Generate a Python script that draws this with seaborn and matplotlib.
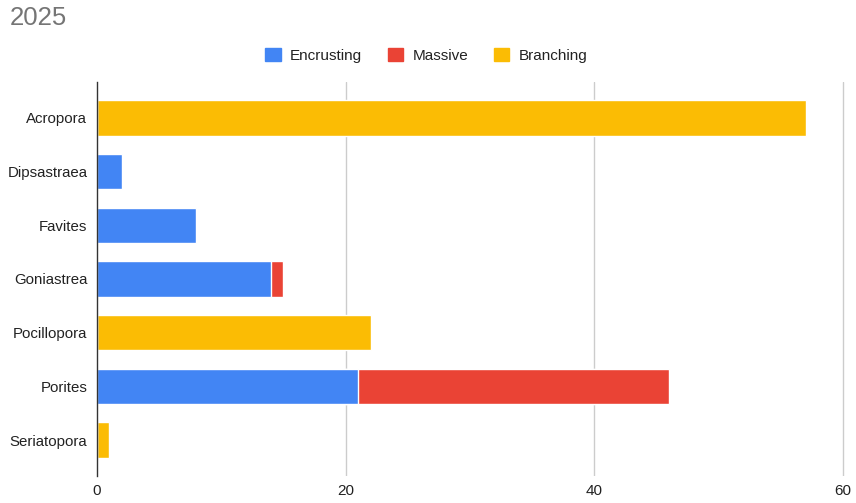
import matplotlib
matplotlib.use("Agg")
import matplotlib.pyplot as plt
import seaborn as sns
import numpy as np
import pandas as pd
from matplotlib.patches import Patch

genera = ["Acropora", "Dipsastraea", "Favites", "Goniastrea", "Pocillopora", "Porites", "Seriatopora"]
encrusting = [0, 2, 8, 14, 0, 21, 0]
massive = [0, 0, 0, 1, 0, 25, 0]
branching = [57, 0, 0, 0, 22, 0, 1]
series = ["Encrusting", "Massive", "Branching"]
colors = ["#4285F4", "#EA4335", "#FBBC04"]
xticks = [0, 20, 40, 60]

sns.set_theme(style="white")
plt.rcParams['font.family'] = ['Liberation Sans', 'DejaVu Sans']

fig = plt.figure(figsize=(8.56, 5.03), dpi=100)
ax = fig.add_axes([0.1133, 0.0537, 0.8759, 0.7833])

enc = np.array(encrusting, dtype=float)
mas = np.array(massive, dtype=float)
bra = np.array(branching, dtype=float)
layers = [enc + mas + bra, enc + mas, enc]
layer_colors = [colors[2], colors[1], colors[0]]
for vals, c in zip(layers, layer_colors):
    df = pd.DataFrame({"genus": genera, "value": vals})
    sns.barplot(data=df, x="value", y="genus", orient="h", color=c,
                width=0.66, saturation=1, ax=ax, order=genera, zorder=3)

ax.set_xlim(0, 60.3)
ax.set_ylim(6.67, -0.67)
ax.set_xticks(xticks)
ax.set_xticklabels([str(t) for t in xticks], fontsize=11, color="#222222")
ax.tick_params(axis="y", labelsize=10.8, colors="#222222", length=0, pad=7)
ax.tick_params(axis="x", length=0, pad=6)
ax.set_xlabel("")
ax.set_ylabel("")
for t in xticks[1:]:
    ax.axvline(t, color="#CCCCCC", lw=1, zorder=1)
for s in ["top", "right", "bottom"]:
    ax.spines[s].set_visible(False)
ax.spines["left"].set_color("#333333")
ax.spines["left"].set_linewidth(1)
ax.spines["left"].set_zorder(5)

fig.text(0.011, 0.965, "2025", fontsize=18.5, color="#757575", ha="left", va="center")

handles = [Patch(facecolor=c, edgecolor=c, label=l) for l, c in zip(series, colors)]
fig.legend(handles=handles, loc="center", bbox_to_anchor=(0.498, 0.89), ncol=3,
           frameon=False, fontsize=11, handlelength=1.0, handleheight=1.0,
           handletextpad=0.6, columnspacing=1.7, labelcolor="#222222")

fig.savefig("out.png", dpi=100)
